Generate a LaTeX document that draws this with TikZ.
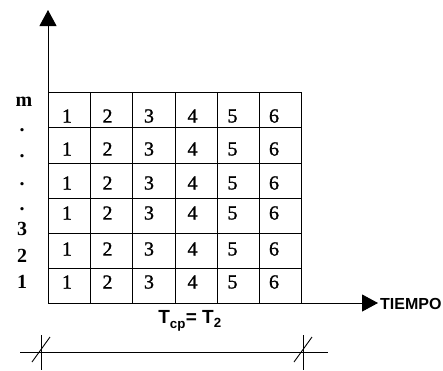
\documentclass[tikz,border=0pt]{standalone}
\usepackage{fontspec}
\setmainfont{Liberation Serif}
\newfontfamily\sansfont{Liberation Sans}
\newfontfamily\digfont{Liberation Serif}[FakeBold=1.2]
\usetikzlibrary{arrows.meta}
\tikzset{
  digit/.style={inner sep=0pt, font=\fontsize{20}{20}\selectfont\digfont},
  rowlab/.style={inner sep=0pt, font=\fontsize{20}{20}\selectfont\bfseries},
  axis/.style={line width=1pt, -{Triangle[width=17pt,length=16pt]}},
  gridline/.style={line width=0.9pt},
  dimline/.style={line width=0.9pt},
  sanslab/.style={inner sep=0pt, font=\fontsize{16}{16}\selectfont\sansfont\bfseries},
  dimlab/.style={inner sep=0pt, font=\fontsize{19}{19}\selectfont\sansfont\bfseries}
}
\begin{document}
\begin{tikzpicture}[x=1pt,y=-1pt]
\useasboundingbox (0,0) rectangle (443,370);
% axes
\coordinate (o) at (48,303);
\coordinate (ytip) at (48,10);
\coordinate (xtip) at (378,303);
\draw[axis] (o) -- (ytip);
\draw[axis] (o) -- (xtip);
\node[sanslab, anchor=west] (tiempo) at (380,304) {TIEMPO};
% grid
\foreach \x in {48,90,132,175,217,259,301} \draw[gridline] (\x,92) -- (\x,303);
\foreach \y in {92,127.5,163,198,233,268,303} \draw[gridline] (48,\y) -- (301,\y);
% digits
\foreach \r/\yy in {1/116,2/149,3/183,4/213,5/249,6/282} {
  \foreach \c/\xx in {1/67,2/107.5,3/149,4/192.5,5/232.5,6/274} {
    \node[digit] (d\r\c) at (\xx,\yy) {\c};
  }
}
% row labels
\node[rowlab] (lm) at (24,102) {m};
\node[rowlab] (ld1) at (22,130) {.};
\node[rowlab] (ld2) at (22,156) {.};
\node[rowlab] (ld3) at (22,184) {.};
\node[rowlab] (ld4) at (22,209) {.};
\node[rowlab] (l3) at (22,229) {3};
\node[rowlab] (l2) at (22,256) {2};
\node[rowlab] (l1) at (22,282) {1};
% dimension
\coordinate (da) at (20,352);
\coordinate (db) at (328,352);
\draw[dimline] (da) -- (db);
\foreach \t in {41,303} {
  \draw[dimline] (\t,335) -- (\t,370);
  \draw[dimline] (\t-9,362) -- (\t+9,337);
}
\node[dimlab] (tcp) at (190,321) {T\textsubscript{\raisebox{-2pt}{cp}}= T\textsubscript{2}};
\end{tikzpicture}
\end{document}
